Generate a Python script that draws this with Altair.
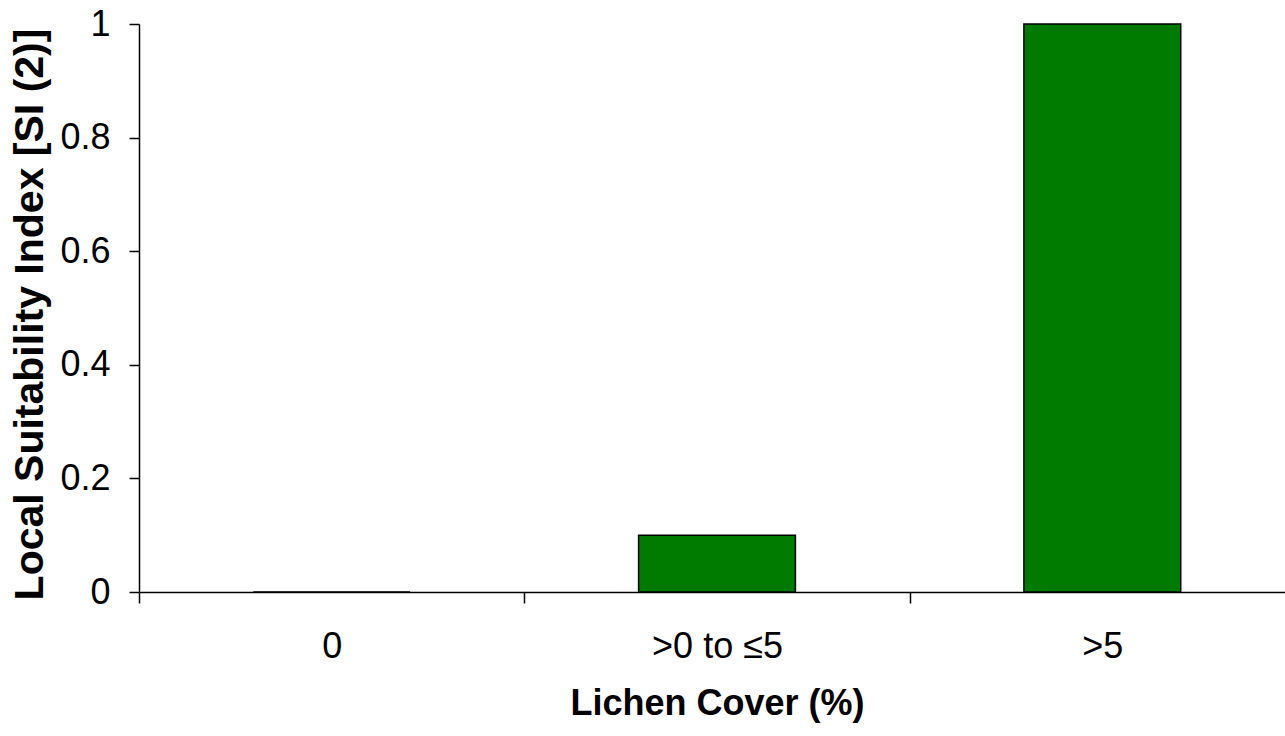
import altair as alt
import pandas as pd

categories = ["0", ">0 to ≤5", ">5"]
values = [0.0, 0.1, 1.0]
y_ticks = [0, 0.2, 0.4, 0.6, 0.8, 1.0]

df = pd.DataFrame({"cover": categories, "si": values})

FONT = "Liberation Sans"

chart = alt.Chart(df).mark_bar(
    color="#007b00", stroke="#000000", strokeWidth=1.5,
    width={"band": 0.407},
).encode(
    x=alt.X(
        "cover:N", sort=categories, title="Lichen Cover (%)",
        scale=alt.Scale(paddingInner=0, paddingOuter=0, range=[0, 1156]),
        axis=alt.Axis(
            labelAngle=0, tickBand="extent", tickSize=11, labelPadding=26,
            titlePadding=22, domainColor="#000000", tickColor="#000000",
            domainWidth=1.5, tickWidth=1.5,
            labelFont=FONT, labelFontSize=36, labelColor="#000000",
            titleFont=FONT, titleFontSize=36, titleFontWeight="bold", titleColor="#000000",
        ),
    ),
    y=alt.Y(
        "si:Q", title="Local Suitability Index [SI (2)]",
        scale=alt.Scale(domain=[0, 1], nice=False),
        axis=alt.Axis(
            values=y_ticks, format="~g", tickSize=10, labelPadding=19,
            titlePadding=8, titleY=290, grid=False, domainColor="#000000", tickColor="#000000",
            domainWidth=1.5, tickWidth=1.5,
            labelFont=FONT, labelFontSize=36, labelColor="#000000",
            titleFont=FONT, titleFontSize=41, titleFontWeight="bold", titleColor="#000000",
        ),
    ),
).properties(
    width=1146, height=568,
    autosize=alt.AutoSizeParams(type="none"),
    padding={"left": 139, "top": 24, "right": 0, "bottom": 144},
    background="#ffffff",
).configure_view(stroke=None)

chart.save("out.html", embed_options={"renderer": "svg", "actions": False})
